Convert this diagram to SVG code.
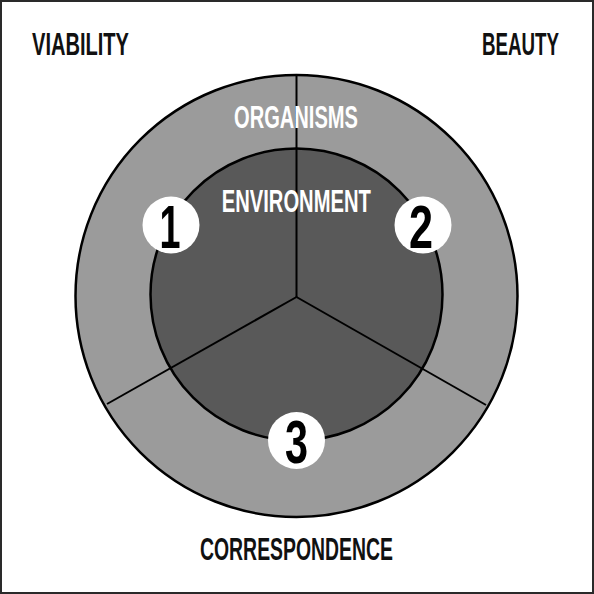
<svg xmlns="http://www.w3.org/2000/svg" width="594" height="594" viewBox="0 0 594 594">
<style>
.lbl{font-family:"Liberation Sans","DejaVu Sans",Arial,sans-serif;font-size:31px;font-weight:bold;text-anchor:middle}
.dark{fill:#111}
.light{fill:#fff}
.num{font-family:"Liberation Sans","DejaVu Sans",Arial,sans-serif;font-size:62px;font-weight:bold;text-anchor:middle;fill:#000}
.badge{fill:#fff;stroke:none}
.ring{stroke:#000;stroke-width:2.5}
.div{stroke:#000;stroke-width:2;fill:none}
</style>
<rect x="1" y="1" width="592" height="592" fill="#fff" stroke="#2a2a2a" stroke-width="2"/>
<g id="outer-ring">
<circle class="ring" cx="296.5" cy="296" r="221" fill="#9b9b9b"/>
</g>
<g id="inner-circle">
<circle class="ring" cx="296.5" cy="294.5" r="146" fill="#595959"/>
</g>
<g id="connectors">
<line class="div" x1="296.5" y1="297" x2="296.5" y2="75"/>
<line class="div" x1="296.5" y1="297" x2="107" y2="404"/>
<line class="div" x1="296.5" y1="297" x2="486" y2="405"/>
</g>
<g id="organisms"><text class="lbl light" x="296" y="128" textLength="124" lengthAdjust="spacingAndGlyphs">ORGANISMS</text></g>
<g id="environment"><text class="lbl light" x="296.3" y="212" textLength="149" lengthAdjust="spacingAndGlyphs">ENVIRONMENT</text></g>
<g id="badge-1">
<circle class="badge" cx="171" cy="225" r="28.5"/>
<text class="num" x="170" y="248" textLength="21" lengthAdjust="spacingAndGlyphs">1</text>
</g>
<g id="badge-2">
<circle class="badge" cx="423" cy="225" r="28.5"/>
<text class="num" x="421" y="248" textLength="24" lengthAdjust="spacingAndGlyphs">2</text>
</g>
<g id="badge-3">
<circle class="badge" cx="296.5" cy="440.5" r="28.5"/>
<text class="num" x="296.5" y="463" textLength="23" lengthAdjust="spacingAndGlyphs">3</text>
</g>
<g id="viability"><text class="lbl dark" x="80.5" y="55" textLength="97" lengthAdjust="spacingAndGlyphs">VIABILITY</text></g>
<g id="beauty"><text class="lbl dark" x="520.5" y="55" textLength="77" lengthAdjust="spacingAndGlyphs">BEAUTY</text></g>
<g id="correspondence"><text class="lbl dark" x="296.5" y="560" textLength="193" lengthAdjust="spacingAndGlyphs">CORRESPONDENCE</text></g>
</svg>
